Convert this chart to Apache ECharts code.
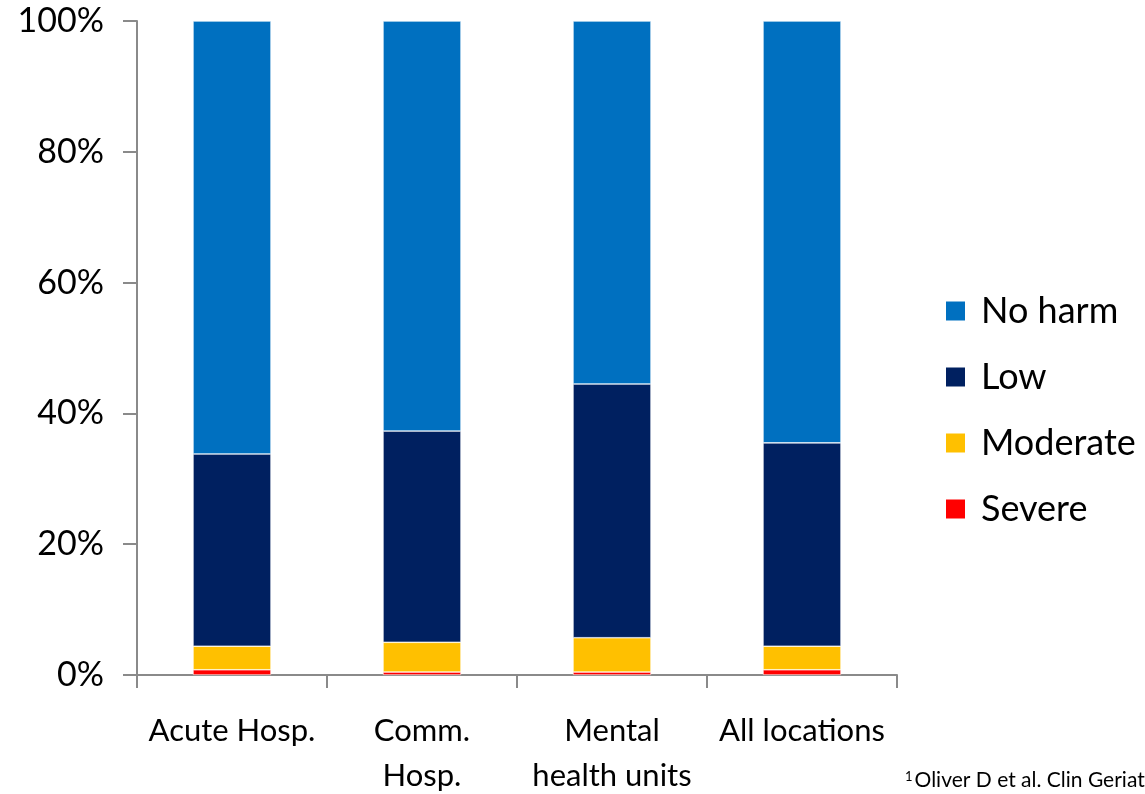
<!DOCTYPE html>
<html>
<head>
<meta charset="utf-8">
<script src="https://cdn.jsdelivr.net/npm/echarts@6/dist/echarts.min.js"></script>
<style>
html,body{margin:0;padding:0;background:#fff;}
#chart{width:1145px;height:794px;}
</style>
</head>
<body>
<div id="chart"></div>
<script>
const categories = ['Acute Hosp.', 'Comm.\nHosp.', 'Mental\nhealth units', 'All locations'];
const severe   = [0.8, 0.45, 0.45, 0.8];
const moderate = [3.6, 4.55, 5.25, 3.6];
const low      = [29.4, 32.3, 38.8, 31.1];
const noHarm   = [66.2, 62.7, 55.5, 64.5];
const yTicks   = [0, 20, 40, 60, 80, 100];
const footnote = 'Oliver D et al. Clin Geriatr Med';

const FONT = 'Lato, "Open Sans", sans-serif';
const AXIS_COLOR = '#8a8a8a';

const chart = echarts.init(document.getElementById('chart'));

function mk(name, data, color) {
  return {
    name: name, type: 'bar', stack: 'total', data: data,
    barWidth: 78,
    itemStyle: { color: color, borderColor: '#fff', borderWidth: 0.6 },
    emphasis: { disabled: true }
  };
}

chart.setOption({
  animation: false,
  backgroundColor: '#fff',
  grid: { left: 137, right: 248, top: 21, bottom: 119, containLabel: false, outerBoundsMode: 'none' },
  legend: {
    orient: 'vertical',
    left: 944, top: 293, padding: 0,
    itemWidth: 21, itemHeight: 21, itemGap: 30,
    icon: 'rect',
    data: ['No harm', 'Low', 'Moderate', 'Severe'],
    textStyle: { fontFamily: FONT, fontSize: 36, color: '#000', padding: [0, 0, 0, 10] }
  },
  xAxis: {
    type: 'category',
    data: categories,
    axisLine: { lineStyle: { color: AXIS_COLOR, width: 2 } },
    axisTick: { show: true, alignWithLabel: false, length: 13, lineStyle: { color: AXIS_COLOR, width: 2 } },
    axisLabel: { fontFamily: FONT, fontSize: 31, color: '#000', margin: 33, lineHeight: 45, interval: 0 }
  },
  yAxis: {
    type: 'value', min: 0, max: 100, interval: 20,
    axisLine: { show: true, lineStyle: { color: AXIS_COLOR, width: 2 } },
    axisTick: { show: true, length: 14, lineStyle: { color: AXIS_COLOR, width: 2 } },
    splitLine: { show: false },
    axisLabel: {
      fontFamily: FONT, fontSize: 34, color: '#000', margin: 33,
      formatter: function (v) { return yTicks.indexOf(v) >= 0 ? v + '%' : ''; }
    }
  },
  series: [
    mk('Severe', severe, '#FF0000'),
    mk('Moderate', moderate, '#FFC000'),
    mk('Low', low, '#002060'),
    mk('No harm', noHarm, '#0070C0')
  ],
  graphic: [{
    type: 'text', left: 905, top: 770,
    style: {
      text: '{s|1}' + footnote,
      fontFamily: FONT, fontSize: 21, fill: '#000',
      rich: { s: { fontSize: 13, verticalAlign: 'top', padding: [0, 2, 8, 0], fontFamily: FONT } }
    }
  }]
});
</script>
</body>
</html>
